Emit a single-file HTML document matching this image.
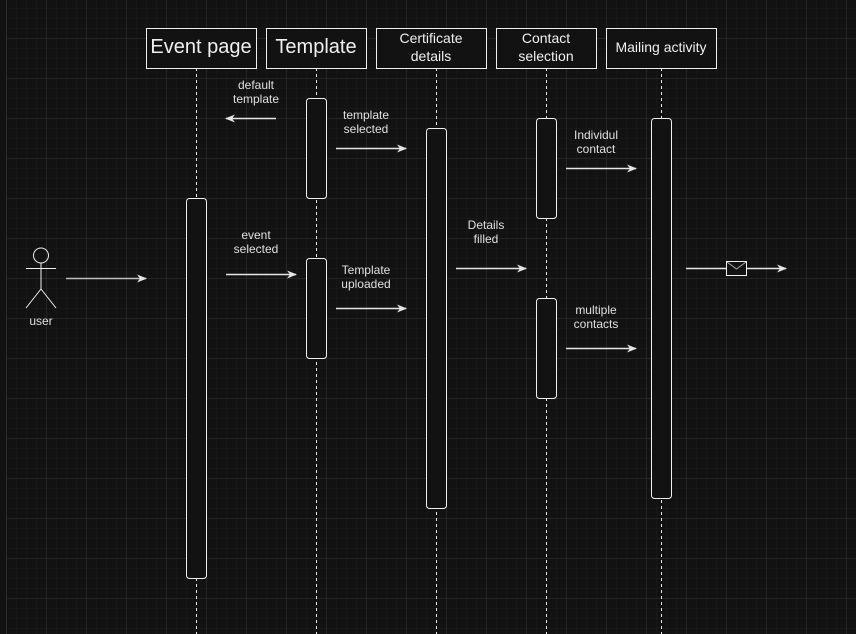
<!DOCTYPE html>
<html><head><meta charset="utf-8"><style>
html,body{margin:0;padding:0;background:#121212;}
svg{display:block;font-family:"Liberation Sans",Arial,sans-serif;}
</style></head><body>
<svg width="856" height="634" viewBox="0 0 856 634" xmlns="http://www.w3.org/2000/svg">
<defs>
<pattern id="minor" x="6" y="8" width="10" height="10" patternUnits="userSpaceOnUse"><path d="M0 0H10M0 0V10" stroke="#1c1c1c" stroke-width="1" fill="none"/></pattern>
<pattern id="major" x="6.5" y="38.5" width="40" height="40" patternUnits="userSpaceOnUse"><path d="M0 0H40M0 0V40" stroke="#2c2c2c" stroke-width="1" fill="none"/></pattern>
<marker id="ah" viewBox="0 0 10 10" refX="9" refY="5" markerWidth="10" markerHeight="10" markerUnits="userSpaceOnUse" orient="auto"><path d="M0 1L10 5L0 9L3 5Z" fill="#e6e6e6"/></marker>
</defs>
<rect width="856" height="634" fill="#121212"/>
<rect x="6" width="850" height="634" fill="url(#minor)"/>
<rect x="6" width="850" height="634" fill="url(#major)"/>
<line x1="6.5" y1="0" x2="6.5" y2="634" stroke="#2c2c2c"/>

<g stroke="#e6e6e6" stroke-width="1" stroke-dasharray="3,3" fill="none">
<line x1="196.5" y1="68" x2="196.5" y2="634"/>
<line x1="316.5" y1="68" x2="316.5" y2="634"/>
<line x1="436.5" y1="68" x2="436.5" y2="634"/>
<line x1="546.5" y1="68" x2="546.5" y2="634"/>
<line x1="661.5" y1="68" x2="661.5" y2="634"/>
</g>

<g fill="#121212" stroke="#f0f0f0" stroke-width="1">
<rect x="146.5" y="28.5" width="110" height="40"/>
<rect x="266.5" y="28.5" width="100" height="40"/>
<rect x="376.5" y="28.5" width="110" height="40"/>
<rect x="496.5" y="28.5" width="100" height="40"/>
<rect x="606.5" y="28.5" width="110" height="40"/>
<rect x="186.5" y="198.5" width="20" height="380" rx="3"/>
<rect x="306.5" y="98.5" width="20" height="100" rx="3"/>
<rect x="306.5" y="258.5" width="20" height="100" rx="3"/>
<rect x="426.5" y="128.5" width="20" height="380" rx="3"/>
<rect x="536.5" y="118.5" width="20" height="100" rx="3"/>
<rect x="536.5" y="298.5" width="20" height="100" rx="3"/>
<rect x="651.5" y="118.5" width="20" height="380" rx="3"/>
</g>

<g fill="#f0f0f0" text-anchor="middle">
<text x="201" y="53" font-size="20">Event page</text>
<text x="316" y="53" font-size="20">Template</text>
<text x="431" y="43" font-size="14">Certificate</text>
<text x="431" y="61" font-size="14">details</text>
<text x="546" y="43" font-size="14">Contact</text>
<text x="546" y="61" font-size="14">selection</text>
<text x="661" y="52" font-size="14">Mailing activity</text>
</g>

<g fill="#e0e0e0" text-anchor="middle" font-size="12">
<text x="256" y="89">default</text><text x="256" y="103">template</text>
<text x="366" y="119">template</text><text x="366" y="133">selected</text>
<text x="596" y="139">Individul</text><text x="596" y="153">contact</text>
<text x="486" y="229">Details</text><text x="486" y="243">filled</text>
<text x="256" y="239">event</text><text x="256" y="253">selected</text>
<text x="366" y="274">Template</text><text x="366" y="288">uploaded</text>
<text x="596" y="314">multiple</text><text x="596" y="328">contacts</text>
<text x="41" y="325">user</text>
</g>

<g stroke="#e6e6e6" stroke-width="1.5" fill="none" marker-end="url(#ah)">
<line x1="276" y1="118.5" x2="226" y2="118.5"/>
<line x1="336" y1="148.5" x2="406" y2="148.5"/>
<line x1="566" y1="168.5" x2="636" y2="168.5"/>
<line x1="456" y1="268.5" x2="526" y2="268.5"/>
<line x1="226" y1="274.5" x2="296" y2="274.5"/>
<line x1="66" y1="278.5" x2="146" y2="278.5" stroke="#bdbdbd"/>
<line x1="336" y1="308.5" x2="406" y2="308.5"/>
<line x1="566" y1="348.5" x2="636" y2="348.5"/>
<line x1="686" y1="268.5" x2="786" y2="268.5"/>
</g>
<rect x="726.5" y="261.5" width="20" height="14" fill="#121212" stroke="#f0f0f0"/>
<path d="M727 262L736.5 269L746 262" stroke="#aaa" fill="none"/>

<g stroke="#f0f0f0" stroke-width="1" fill="none">
<circle cx="41" cy="255.5" r="7.5"/>
<line x1="41" y1="263" x2="41" y2="289"/>
<line x1="26" y1="268.5" x2="56" y2="268.5"/>
<line x1="41" y1="289" x2="26" y2="308"/>
<line x1="41" y1="289" x2="56" y2="308"/>
</g>
</svg>
</body></html>
